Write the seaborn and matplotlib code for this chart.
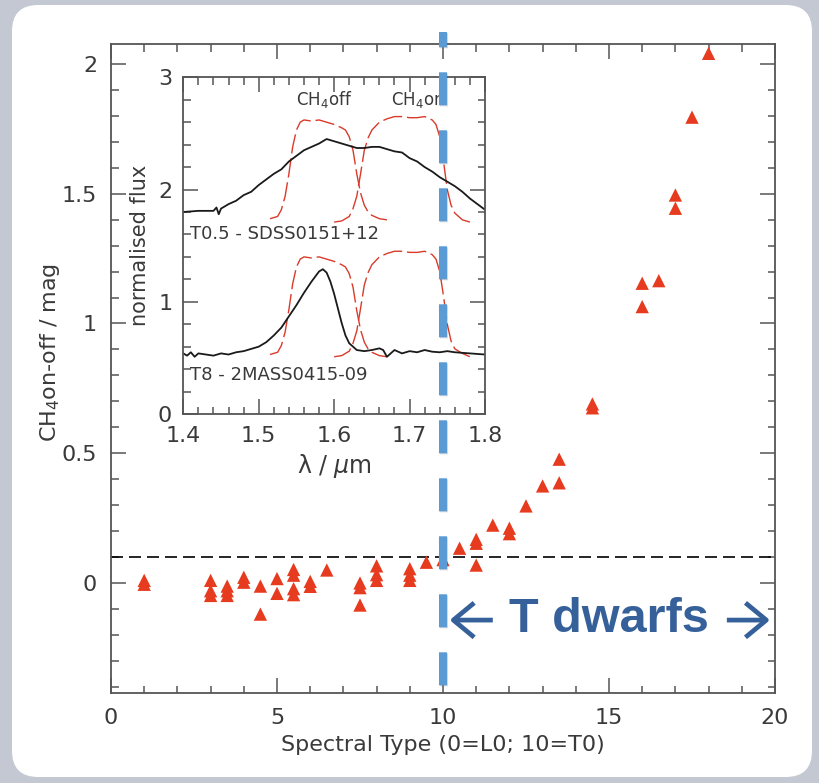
import matplotlib
matplotlib.use("Agg")
import matplotlib.pyplot as plt
import matplotlib.transforms as mtransforms
import matplotlib.patheffects as pe
from matplotlib.lines import Line2D
from matplotlib.patches import FancyBboxPatch
from matplotlib.ticker import MultipleLocator
import pandas as pd
import seaborn as sns

# --- methane colour index versus spectral type (0 = L0, 10 = T0) ---
spectral_type = [1, 1, 3, 3, 3, 3.5, 3.5, 3.5, 4, 4, 4.5, 4.5, 5, 5,
                 5.5, 5.5, 5.5, 5.5, 6, 6, 6.5, 7.5, 7.5, 7.5, 8, 8, 8,
                 9, 9, 9, 9.5, 10, 10.5, 11, 11, 11, 11.5, 12, 12, 12.5,
                 13, 13.5, 13.5, 14.5, 14.5, 16, 16, 16.5, 17, 17, 17.5, 18]
ch4_on_off = [0.010, -0.005, 0.010, -0.030, -0.048, -0.012, -0.030, -0.048,
              0.022, 0.003, -0.012, -0.120, 0.017, -0.040,
              0.052, 0.030, -0.022, -0.045, 0.006, -0.013, 0.050,
              0.000, -0.018, -0.085, 0.066, 0.032, 0.010,
              0.055, 0.030, 0.010, 0.080, 0.090, 0.134, 0.168, 0.153, 0.069,
              0.223, 0.211, 0.190, 0.297, 0.374, 0.477, 0.386, 0.690, 0.675,
              1.155, 1.065, 1.165, 1.495, 1.444, 1.795, 2.041]
t_dwarf_threshold = 0.1

# --- inset: example spectra (normalised flux, offset) ---
wl_t05 = [1.400, 1.420, 1.440, 1.444, 1.447, 1.450, 1.460, 1.470, 1.480,
          1.490, 1.500, 1.510, 1.520, 1.530, 1.540, 1.550, 1.560, 1.570,
          1.580, 1.590, 1.600, 1.610, 1.620, 1.630, 1.640, 1.650, 1.660,
          1.670, 1.680, 1.690, 1.700, 1.710, 1.720, 1.730, 1.740, 1.750,
          1.760, 1.770, 1.780, 1.790, 1.800]
flux_t05 = [1.80, 1.81, 1.81, 1.84, 1.78, 1.83, 1.87, 1.90, 1.95,
            1.98, 2.04, 2.09, 2.14, 2.18, 2.25, 2.30, 2.35, 2.38,
            2.41, 2.45, 2.43, 2.41, 2.39, 2.37, 2.37, 2.38, 2.38,
            2.36, 2.34, 2.33, 2.28, 2.25, 2.20, 2.16, 2.11, 2.07,
            2.03, 1.98, 1.92, 1.87, 1.82]

wl_t8 = [1.400, 1.405, 1.410, 1.415, 1.420, 1.430, 1.440, 1.450, 1.460,
         1.470, 1.480, 1.490, 1.500, 1.510, 1.520, 1.530, 1.540, 1.550,
         1.560, 1.570, 1.580, 1.585, 1.590, 1.595, 1.600, 1.605, 1.610,
         1.615, 1.620, 1.630, 1.640, 1.650, 1.660, 1.665, 1.670, 1.680,
         1.690, 1.700, 1.710, 1.720, 1.730, 1.740, 1.750, 1.760, 1.770,
         1.780, 1.790, 1.800]
flux_t8 = [0.54, 0.52, 0.55, 0.51, 0.54, 0.53, 0.52, 0.54, 0.53,
           0.55, 0.56, 0.58, 0.60, 0.64, 0.70, 0.77, 0.87, 0.97,
           1.08, 1.18, 1.27, 1.29, 1.26, 1.18, 1.07, 0.94, 0.81,
           0.70, 0.63, 0.57, 0.56, 0.57, 0.585, 0.57, 0.51, 0.57,
           0.54, 0.56, 0.55, 0.57, 0.555, 0.55, 0.56, 0.55, 0.545,
           0.54, 0.535, 0.53]

# --- inset: CH4off / CH4on filter profiles drawn over each spectrum ---
wl_off = [1.515, 1.525, 1.530, 1.535, 1.540, 1.545, 1.550, 1.555, 1.560,
          1.570, 1.580, 1.590, 1.600, 1.610, 1.615, 1.620, 1.625, 1.630,
          1.635, 1.640, 1.645, 1.650, 1.660, 1.670]
off_upper = [1.74, 1.76, 1.82, 1.94, 2.14, 2.38, 2.53, 2.60, 2.62,
             2.61, 2.62, 2.60, 2.58, 2.55, 2.53, 2.47, 2.35, 2.14,
             1.97, 1.86, 1.80, 1.77, 1.74, 1.73]
off_lower = [0.53, 0.55, 0.61, 0.73, 0.93, 1.16, 1.31, 1.38, 1.40,
             1.39, 1.40, 1.38, 1.36, 1.33, 1.31, 1.25, 1.13, 0.92,
             0.75, 0.64, 0.58, 0.55, 0.52, 0.51]

wl_on = [1.600, 1.610, 1.620, 1.625, 1.630, 1.635, 1.640, 1.645, 1.650,
         1.660, 1.670, 1.680, 1.690, 1.700, 1.710, 1.720, 1.730, 1.735,
         1.740, 1.745, 1.750, 1.755, 1.760, 1.770, 1.780]
on_upper = [1.71, 1.72, 1.76, 1.83, 1.94, 2.14, 2.35, 2.46, 2.53,
            2.60, 2.63, 2.65, 2.65, 2.64, 2.64, 2.65, 2.62, 2.58,
            2.47, 2.25, 2.00, 1.86, 1.79, 1.73, 1.71]
on_lower = [0.51, 0.52, 0.56, 0.63, 0.74, 0.94, 1.15, 1.26, 1.33,
            1.40, 1.43, 1.45, 1.45, 1.44, 1.44, 1.45, 1.42, 1.38,
            1.27, 1.05, 0.80, 0.65, 0.58, 0.54, 0.51]

W, H = 819, 783
TEXT = "#3a3a3a"
AXIS = "#555555"
RED = "#e63b1e"
NAVY = "#35609a"

sns.set_theme(style="ticks")
plt.rcParams["font.family"] = ["DejaVu Sans"]
plt.rcParams["mathtext.fontset"] = "dejavusans"

fig = plt.figure(figsize=(W / 100, H / 100), dpi=100)
fig.patch.set_facecolor("#c4c8d2")

# white rounded card behind the plot
card = FancyBboxPatch((12 / W, 6 / H), 800 / W, 772 / H,
                      boxstyle="round,pad=0,rounding_size=0.032",
                      mutation_aspect=W / H,
                      transform=fig.transFigure, facecolor="white",
                      edgecolor="none", zorder=-5)
fig.add_artist(card)


def style_axes(a, xmaj, xmin, ymaj, ymin, size):
    a.xaxis.set_major_locator(MultipleLocator(xmaj))
    a.xaxis.set_minor_locator(MultipleLocator(xmin))
    a.yaxis.set_major_locator(MultipleLocator(ymaj))
    a.yaxis.set_minor_locator(MultipleLocator(ymin))
    a.tick_params(which="both", direction="in", top=True, right=True,
                  color=AXIS, width=1.1, labelcolor=TEXT, labelsize=size)
    a.tick_params(which="major", length=10.8)
    a.tick_params(which="minor", length=5.4)
    for sp in a.spines.values():
        sp.set_color(AXIS)
        sp.set_linewidth(1.3)


# ---------------- main panel ----------------
ax = fig.add_axes([111 / W, 1 - 693 / H, 664 / W, 649 / H])
ax.set_facecolor("white")
df = pd.DataFrame({"spt": spectral_type, "idx": ch4_on_off})
ax.axhline(t_dwarf_threshold, color="black", lw=1.2,
           ls=(0, (7.2, 3.6)), zorder=1)
sns.scatterplot(data=df, x="spt", y="idx", marker="^", s=92, color=RED,
                edgecolor="none", linewidth=0, ax=ax, zorder=3)
ax.set_xlim(0, 20)
ax.set_ylim(-0.424, 2.077)
style_axes(ax, 5, 1, 0.5, 0.1, 16)
ax.tick_params(axis="x", pad=11)
ax.tick_params(axis="y", pad=10)
ax.yaxis.set_major_formatter(plt.FuncFormatter(lambda v, p: f"{v:g}"))
ax.set_xlabel("Spectral Type (0=L0; 10=T0)", fontsize=16, color=TEXT)
ax.set_ylabel("CH$_4$on-off / mag", fontsize=16, color=TEXT)
ax.xaxis.label.set_va("center")
ax.yaxis.label.set_va("center")
ax.xaxis.set_label_coords(0.5, -0.080)
ax.yaxis.set_label_coords(-0.092, 0.524)

# T-dwarf range annotation with open-headed arrows either side
ax.text(15.0, -0.14, "T dwarfs", ha="center", va="center",
        fontsize=35, fontweight="bold", color=NAVY,
        family=["Liberation Sans", "DejaVu Sans"], zorder=4)
arrow_kw = dict(arrowstyle="->,head_length=0.75,head_width=0.62",
                lw=3.4, color=NAVY, mutation_scale=20,
                shrinkA=0, shrinkB=0, capstyle="butt")
ax.annotate("", xy=(10.2, -0.143), xytext=(11.5, -0.143),
            arrowprops=arrow_kw, zorder=4)
ax.annotate("", xy=(19.85, -0.143), xytext=(18.55, -0.143),
            arrowprops=arrow_kw, zorder=4)

# ---------------- inset: spectra and filters ----------------
axin = fig.add_axes([183.3 / W, 1 - 414 / H, 301.7 / W, 336.7 / H], zorder=5)
axin.set_facecolor("white")
for wl, fl in [(wl_off, off_upper), (wl_on, on_upper),
               (wl_off, off_lower), (wl_on, on_lower)]:
    sns.lineplot(x=wl, y=fl, sort=False, estimator=None, ax=axin,
                 color="#d93a2a", lw=1.0, linestyle=(0, (14, 3.5)))
for wl, fl in [(wl_t05, flux_t05), (wl_t8, flux_t8)]:
    sns.lineplot(x=wl, y=fl, sort=False, estimator=None, ax=axin,
                 color="#1a1a1a", lw=1.3)
axin.set_xlim(1.4, 1.8)
axin.set_ylim(0, 3)
style_axes(axin, 0.1, 0.02, 1, 0.2, 16)
axin.tick_params(axis="x", pad=9)
axin.tick_params(axis="y", pad=8)
axin.set_xlabel("\u03bb / $\\mu$m", fontsize=17, color=TEXT)
axin.set_ylabel("normalised flux", fontsize=15, color=TEXT)
axin.xaxis.label.set_va("center")
axin.yaxis.label.set_va("center")
axin.xaxis.set_label_coords(0.5, -0.154)
axin.yaxis.set_label_coords(-0.144, 0.50)

axin.text(1.587, 2.80, "CH$_4$off", ha="center", va="center",
          fontsize=12, color=TEXT)
axin.text(1.675, 2.80, "CH$_4$on", ha="left", va="center",
          fontsize=12, color=TEXT)
axin.text(1.409, 1.60, "T0.5 - SDSS0151+12", ha="left", va="center",
          fontsize=13, color=TEXT)
axin.text(1.409, 0.35, "T8 - 2MASS0415-09", ha="left", va="center",
          fontsize=13, color=TEXT)

# ---------------- L/T boundary marker across the whole figure ----------------
blend = mtransforms.blended_transform_factory(ax.transData, fig.transFigure)
boundary = Line2D([10, 10], [1 - 31.7 / H, 1 - 693 / H], transform=blend,
                  color="#5b9bd5", lw=5.8, solid_capstyle="butt",
                  dash_capstyle="butt", linestyle=(2.2, (4.1, 3.1)),
                  zorder=20,
                  path_effects=[pe.SimpleLineShadow(offset=(0.8, -1.2),
                                                    shadow_color="#555555",
                                                    alpha=0.22),
                                pe.Normal()])
fig.add_artist(boundary)

fig.savefig("out.png", dpi=100)
